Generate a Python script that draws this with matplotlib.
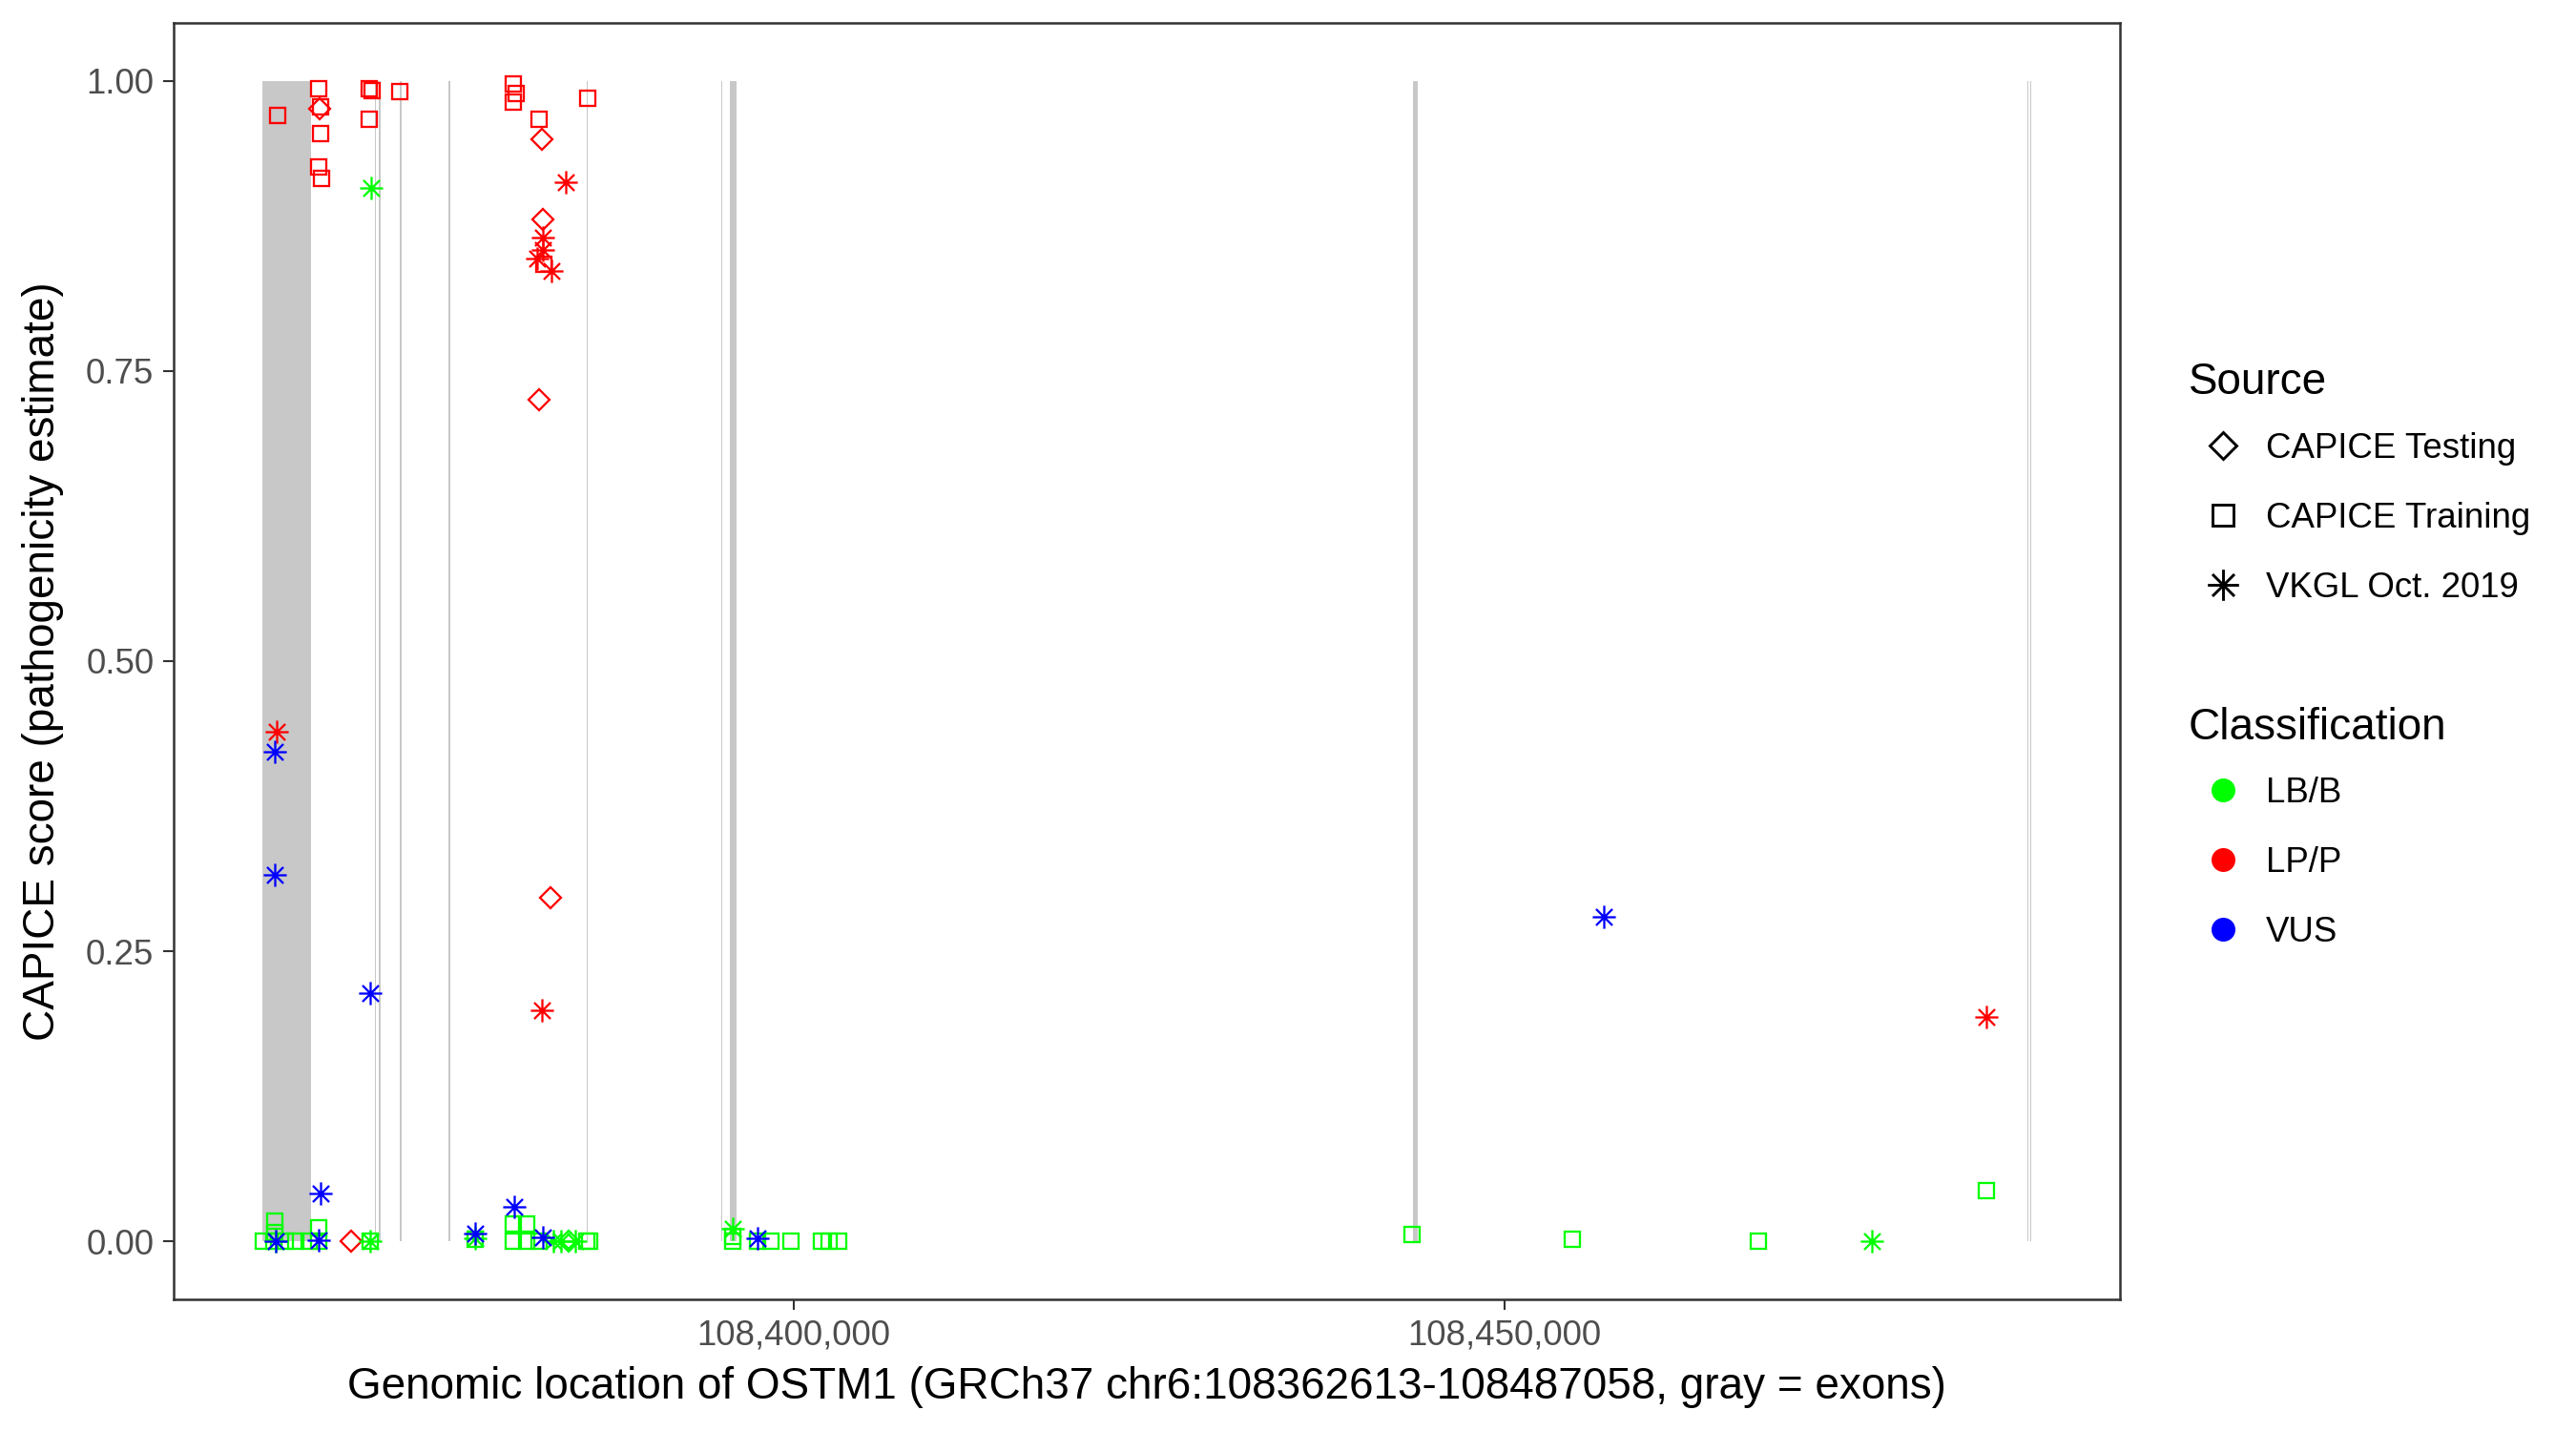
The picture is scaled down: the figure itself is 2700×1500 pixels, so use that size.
import matplotlib
matplotlib.use("Agg")
from matplotlib import pyplot as plt
from matplotlib.path import Path
from matplotlib.lines import Line2D
from matplotlib.ticker import FuncFormatter

plt.rcParams['font.family'] = ['Liberation Sans', 'DejaVu Sans']

gene_start = 108362613
gene_end = 108487058

exon_starts = [108362613, 108370560, 108370850, 108372320, 108375750, 108385440,
               108394890, 108395530, 108443570, 108486770, 108486990]
exon_ends = [108366030, 108370640, 108370930, 108372440, 108375830, 108385520,
             108394990, 108395980, 108443880, 108486840, 108487058]

# variants: position, score, source, classification
pos = [
    # LP/P
    108363686, 108366607, 108366721, 108366701, 108366607, 108366788, 108370138,
    108370339, 108370158, 108372282, 108380302, 108380456, 108380302, 108385528,
    108382064, 108382419,
    108366634, 108382312, 108382379, 108382084, 108382875, 108368865,
    108383987, 108382379, 108382379, 108381977, 108382982, 108363612, 108382299,
    108483924,
    # VUS
    108363498, 108363498, 108370185, 108366721, 108366567, 108363552, 108377622,
    108380342, 108382352, 108397494, 108456970,
    # LB/B
    108370272, 108363552, 108370185, 108377622, 108383089, 108383652, 108384657,
    108395712, 108475817,
    108384161,
    108362701, 108363438, 108364222, 108364999, 108365897, 108366567, 108363505,
    108363505, 108366567, 108370185, 108377622, 108380302, 108381193, 108380302,
    108381193, 108382064, 108385434, 108385662, 108395712, 108395712, 108397494,
    108398392, 108399839, 108401963, 108402519, 108403189, 108443523, 108454779,
    108467844, 108483924,
]
score = [
    0.970, 0.993, 0.978, 0.955, 0.926, 0.916, 0.993,
    0.992, 0.967, 0.991, 0.997, 0.989, 0.982, 0.985,
    0.967, 0.842,
    0.976, 0.950, 0.881, 0.725, 0.296, 0.0,
    0.913, 0.865, 0.854, 0.847, 0.836, 0.439, 0.199,
    0.193,
    0.422, 0.316, 0.214, 0.041, 0.001, 0.0, 0.0066,
    0.030, 0.0036, 0.0025, 0.280,
    0.908, 0.0, 0.0, 0.003, 0.0, 0.0, 0.0,
    0.0107, 0.0,
    0.0,
    0.0, 0.0, 0.0, 0.0, 0.0, 0.0, 0.0175,
    0.0075, 0.012, 0.0, 0.002, 0.015, 0.015, 0.0,
    0.0, 0.0, 0.0, 0.0, 0.004, 0.0, 0.0,
    0.0, 0.0, 0.0, 0.0, 0.0, 0.006, 0.0015,
    0.0, 0.0435,
]
source = (["CAPICE Training"] * 16 + ["CAPICE Testing"] * 6 + ["VKGL Oct. 2019"] * 8
          + ["VKGL Oct. 2019"] * 11
          + ["VKGL Oct. 2019"] * 9 + ["CAPICE Testing"] + ["CAPICE Training"] * 30)
classification = ["LP/P"] * 30 + ["VUS"] * 11 + ["LB/B"] * 40

source_names = ["CAPICE Testing", "CAPICE Training", "VKGL Oct. 2019"]
class_names = ["LB/B", "LP/P", "VUS"]
class_colors = {"LB/B": "#00FF00", "LP/P": "#FF0000", "VUS": "#0000FF"}

# 8-spoke asterisk like R pch 8
d = 0.7071
star = Path([(-1, 0), (1, 0), (-d, -d), (d, d), (0, -1), (0, 1), (-d, d), (d, -d)],
            [Path.MOVETO, Path.LINETO] * 4)
markers = {"CAPICE Testing": ("D", 3.6), "CAPICE Training": ("s", 3.9),
           "VKGL Oct. 2019": (star, 5.8)}

fig = plt.figure(figsize=(9, 5), dpi=300)
ax = fig.add_axes([0.0674, 0.092, 0.7555, 0.892])

ax.broken_barh([(s, e - s) for s, e in zip(exon_starts, exon_ends)], (0, 1),
               facecolors="#C8C8C8", edgecolor="none", zorder=1)

for src in source_names:
    for cls in class_names:
        xs = [p for p, s, c in zip(pos, source, classification) if s == src and c == cls]
        ys = [v for v, s, c in zip(score, source, classification) if s == src and c == cls]
        if not xs:
            continue
        m, ms = markers[src]
        ax.plot(xs, ys, ls="none", marker=m, markersize=ms, markerfacecolor="none",
                markeredgecolor=class_colors[cls], markeredgewidth=0.55, zorder=3)

span = gene_end - gene_start
ax.set_xlim(gene_start - 0.05 * span, gene_end + 0.05 * span)
ax.set_ylim(-0.05, 1.05)
ax.set_xticks([108400000, 108450000])
ax.xaxis.set_major_formatter(FuncFormatter(lambda x, p: f"{x:,.0f}"))
ax.set_yticks([0, 0.25, 0.5, 0.75, 1.0])
ax.yaxis.set_major_formatter(FuncFormatter(lambda y, p: f"{y:.2f}"))
ax.tick_params(length=2.75, width=0.5, color="#333333", labelsize=8.8,
               labelcolor="#4D4D4D", pad=2.2)
for sp in ax.spines.values():
    sp.set_linewidth(0.6)
    sp.set_color("#333333")

ax.set_xlabel("Genomic location of OSTM1 (GRCh37 chr6:108362613-108487058, gray = exons)",
              fontsize=11, labelpad=3.5)
ax.set_ylabel("CAPICE score (pathogenicity estimate)", fontsize=11, labelpad=5.5)

# legends: titles as separate text so the title gap stays ggplot-like
fig.text(0.8496, 0.7325, "Source", fontsize=11, va="center", ha="left")
src_handles = [Line2D([], [], ls="none", marker=markers[s][0], markersize=markers[s][1] * 1.35,
                      markerfacecolor="none", markeredgecolor="black", markeredgewidth=0.7)
               for s in source_names]
leg1 = fig.legend(src_handles, source_names, loc="upper left", bbox_to_anchor=(0.8496, 0.698),
                  frameon=False, fontsize=8.8, handlelength=1.96, handletextpad=0.25,
                  labelspacing=1.04, borderpad=0, borderaxespad=0)

fig.text(0.8496, 0.4914, "Classification", fontsize=11, va="center", ha="left")
cls_handles = [Line2D([], [], ls="none", marker="o", markersize=6,
                      markerfacecolor=class_colors[c], markeredgecolor="none")
               for c in class_names]
leg2 = fig.legend(cls_handles, class_names, loc="upper left", bbox_to_anchor=(0.8496, 0.4575),
                  frameon=False, fontsize=8.8, handlelength=1.96, handletextpad=0.25,
                  labelspacing=1.04, borderpad=0, borderaxespad=0)

fig.savefig("out.png", dpi=300)
